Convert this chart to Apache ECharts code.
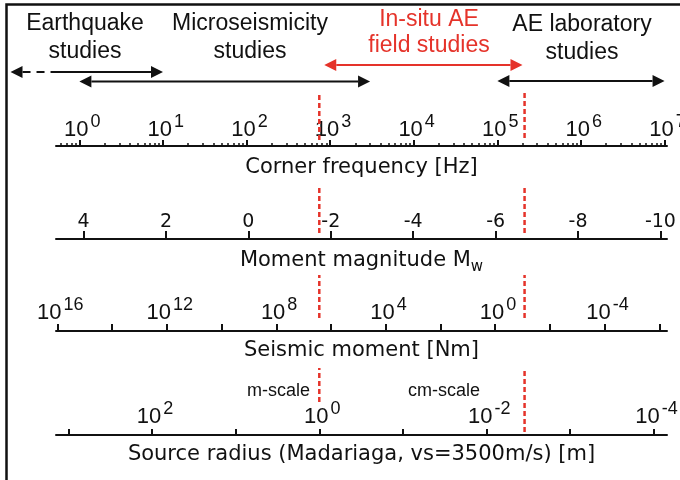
<!DOCTYPE html>
<html>
<head>
<meta charset="utf-8">
<script src="https://cdn.jsdelivr.net/npm/echarts@6/dist/echarts.min.js"></script>
<style>
  html, body { margin: 0; padding: 0; background: #fff; }
  #chart { width: 680px; height: 480px; }
</style>
</head>
<body>
<div id="chart"></div>
<script>
// ---- scale data ----
const freqLimits = [0.525, 1.07e7];                 // Hz, ends of the corner-frequency scale
const freqDecades = [0, 1, 2, 3, 4, 5, 6, 7];       // labelled powers of ten (Hz)
const magnitudeLimits = [-10.16, 4.67];             // Mw, ends of the magnitude scale
const magnitudeTicks = [4, 2, 0, -2, -4, -6, -8, -10];
const momentLimitExps = [-6.28, 16.05];             // log10 Nm, ends of the moment scale
const momentTickExps = [16, 14, 12, 10, 8, 6, 4, 2, 0, -2, -4, -6];
const momentLabelExps = [16, 12, 8, 4, 0, -4];
const radiusLimitExps = [-4.16, 3.15];              // log10 m, ends of the radius scale
const radiusTickExps = [3, 2, 1, 0, -1, -2, -3, -4];
const radiusLabelExps = [2, 0, -2, -4];
const scaleBoundaries = [1, 0.0035];                // source radius (m): m-scale / cm-scale limits
const studyNames = ['Earthquake\nstudies', 'Microseismicity\nstudies', 'In-situ AE\nfield studies', 'AE laboratory\nstudies'];
const studyRanges = [[0.15, 10], [1, 3000], [850, 2e5], [1e5, 1e7]];   // Hz
const scaleNotes = ['m-scale', 'cm-scale'];

// ---- layout & style ----
const INK = '#111111';
const RED = '#e5332a';
const TICK_FONT = 'Liberation Sans';
const TITLE_FONT = 'DejaVu Sans';
const LEFT = 56, RIGHT = 13;
const baselines = [146, 239, 331, 435];
const dashBands = [[93, 140, 138], [186, 233, 233], [275, 318, 318], [368, 402, 432]];
const arrowRows = [72, 81.5, 65, 81];
const arrowColors = [INK, INK, RED, INK];
const studyLabelPos = [[85, 10, 28], [250, 10, 28], [429, 7, 26], [582, 11, 28]];
const notePos = [[310, 391, 'right'], [444, 391, 'center']];

const log10 = Math.log10;

const grids = [], xAxes = [], yAxes = [], series = [];
function addGrid(top, height) {
  grids.push({ left: LEFT, right: RIGHT, top: top, height: height, containLabel: false, outerBoundsMode: 'none' });
  const g = grids.length - 1;
  yAxes.push({ gridIndex: g, type: 'value', min: 0, max: 1, show: false });
  return g;
}

const titleStyle = { fontFamily: TITLE_FONT, fontSize: 21, color: INK };
// power-of-ten labels: base "10" sits on the line bottom, exponent on the line top;
// the thin spacer token sets the line height and so the exponent's rise
const powRich = {
  b: { fontFamily: TICK_FONT, fontSize: 22, color: INK, lineHeight: 22, verticalAlign: 'bottom' },
  s: { fontFamily: TICK_FONT, fontSize: 18, color: INK, lineHeight: 18, verticalAlign: 'top', padding: [0, 0, 0, 2] },
  h: { fontSize: 1, lineHeight: 28, verticalAlign: 'bottom' }
};
const powFormatter = v => '{b|10}{s|' + Math.round(v) + '}{h| }';

function scaleAxis(g, opt) {
  return Object.assign({
    gridIndex: g, type: 'value', position: 'bottom',
    axisLine: { show: true, onZero: false, lineStyle: { color: INK, width: 2 } },
    splitLine: { show: false },
    nameLocation: 'middle'
  }, opt);
}

// Corner frequency (log10 Hz)
const fMin = log10(freqLimits[0]), fMax = log10(freqLimits[1]);
const freqMinor = [];
for (let n = -1; n < 7; n++) {
  for (let k = 2; k <= 9; k++) {
    const v = log10(k) + n;
    if (v > fMin && v < fMax) freqMinor.push(v);
  }
}
const gF = addGrid(baselines[0] - 40, 40);
xAxes.push(scaleAxis(gF, {
  min: fMin, max: fMax,
  axisTick: { show: true, inside: true, length: 6, customValues: freqDecades, lineStyle: { color: INK, width: 2 } },
  axisLabel: { show: true, inside: true, margin: 5, customValues: freqDecades, formatter: powFormatter, rich: powRich, padding: [0, 0, 0, 6] },
  name: 'Corner frequency [Hz]', nameGap: 11, nameTextStyle: titleStyle
}));
xAxes.push(scaleAxis(gF, {
  min: fMin, max: fMax,
  axisLine: { show: false, onZero: false },
  axisTick: { show: true, inside: true, length: 3, customValues: freqMinor, lineStyle: { color: INK, width: 1.5 } },
  axisLabel: { show: false }
}));

// Moment magnitude
const gM = addGrid(baselines[1] - 40, 40);
xAxes.push(scaleAxis(gM, {
  min: magnitudeLimits[0], max: magnitudeLimits[1], inverse: true,
  axisTick: { show: true, inside: true, length: 8, customValues: magnitudeTicks, lineStyle: { color: INK, width: 2 } },
  axisLabel: { show: true, inside: true, margin: 7, customValues: magnitudeTicks, fontFamily: TITLE_FONT, fontSize: 19, color: INK, formatter: v => String(Math.round(v)) },
  name: 'Moment magnitude M{w|w}', nameGap: 8.5,
  nameTextStyle: Object.assign({}, titleStyle, { rich: { w: { fontFamily: TITLE_FONT, fontSize: 15, color: INK, verticalAlign: 'bottom', padding: [12, 0, 0, 0] } } })
}));

// Seismic moment (log10 Nm)
const gS = addGrid(baselines[2] - 40, 40);
xAxes.push(scaleAxis(gS, {
  min: momentLimitExps[0], max: momentLimitExps[1], inverse: true,
  axisTick: { show: true, inside: true, length: 7, customValues: momentTickExps, lineStyle: { color: INK, width: 2 } },
  axisLabel: { show: true, inside: true, margin: 7, customValues: momentLabelExps, formatter: powFormatter, rich: powRich, padding: [0, 0, 0, 6] },
  name: 'Seismic moment [Nm]', nameGap: 9.5, nameTextStyle: titleStyle
}));

// Source radius (log10 m)
const gR = addGrid(baselines[3] - 40, 40);
xAxes.push(scaleAxis(gR, {
  min: radiusLimitExps[0], max: radiusLimitExps[1], inverse: true,
  axisTick: { show: true, inside: true, length: 6, customValues: radiusTickExps, lineStyle: { color: INK, width: 2 } },
  axisLabel: { show: true, inside: true, margin: 7, customValues: radiusLabelExps, formatter: powFormatter, rich: powRich, padding: [0, 0, 0, 6] },
  name: 'Source radius (Madariaga, vs=3500m/s) [m]', nameGap: 9.5, nameTextStyle: titleStyle
}));

// Red dashed scale limits, drawn across each band on the radius scale
dashBands.forEach(band => {
  scaleBoundaries.forEach((r, j) => {
    const g = addGrid(band[0], band[1 + j] - band[0]);
    xAxes.push({ gridIndex: g, type: 'value', min: radiusLimitExps[0], max: radiusLimitExps[1], inverse: true, show: false });
    series.push({
      type: 'line', xAxisIndex: xAxes.length - 1, yAxisIndex: g,
      data: [[log10(r), 0], [log10(r), 1]],
      symbol: 'none', silent: true,
      lineStyle: { color: RED, width: 2.5, type: [5, 3] }
    });
  });
});

// Study-range arrows on the corner-frequency scale
const gA = addGrid(50, 40);
xAxes.push({ gridIndex: gA, type: 'value', min: fMin, max: fMax, show: false });
series.push({
  type: 'custom', xAxisIndex: xAxes.length - 1, yAxisIndex: gA, clip: false, silent: true,
  data: studyRanges.map(r => [log10(r[0]), log10(r[1])]),
  renderItem: (params, api) => {
    const i = params.dataIndex;
    const x0 = api.coord([api.value(0), 0])[0];
    const x1 = api.coord([api.value(1), 0])[0];
    const y = arrowRows[i];
    const color = arrowColors[i];
    const head = 12, half = 6, lw = 2;
    const children = [];
    let xs = x0 + head;
    const xEdge = api.coord([fMin, 0])[0];
    if (x0 < xEdge) {
      // range continuing beyond the scale is dashed
      children.push({ type: 'line', shape: { x1: x0 + head, y1: y, x2: xEdge, y2: y }, style: { stroke: color, lineWidth: lw, lineDash: [8, 6] } });
      xs = xEdge;
    }
    children.push({ type: 'line', shape: { x1: xs, y1: y, x2: x1 - head, y2: y }, style: { stroke: color, lineWidth: lw } });
    children.push({ type: 'polygon', shape: { points: [[x0, y], [x0 + head, y - half], [x0 + head, y + half]] }, style: { fill: color } });
    children.push({ type: 'polygon', shape: { points: [[x1, y], [x1 - head, y - half], [x1 - head, y + half]] }, style: { fill: color } });
    return { type: 'group', children: children };
  }
});

// Frame and text annotations
const graphic = [{
  type: 'rect', silent: true,
  shape: { x: 6.5, y: 4.5, width: 720, height: 520 },
  style: { fill: null, stroke: INK, lineWidth: 2.5 }
}];
studyNames.forEach((t, i) => {
  const p = studyLabelPos[i];
  graphic.push({
    type: 'text', silent: true, x: p[0], y: p[1],
    style: { text: t, fill: arrowColors[i], fontFamily: TICK_FONT, fontSize: 23, lineHeight: p[2], align: 'center', verticalAlign: 'top' }
  });
});
scaleNotes.forEach((t, i) => {
  const p = notePos[i];
  graphic.push({
    type: 'text', silent: true, x: p[0], y: p[1],
    style: { text: t, fill: INK, fontFamily: TICK_FONT, fontSize: 18, align: p[2], verticalAlign: 'middle' }
  });
});

const chart = echarts.init(document.getElementById('chart'));
chart.setOption({
  animation: false,
  backgroundColor: '#ffffff',
  grid: grids,
  xAxis: xAxes,
  yAxis: yAxes,
  series: series,
  graphic: graphic
});
</script>
</body>
</html>
